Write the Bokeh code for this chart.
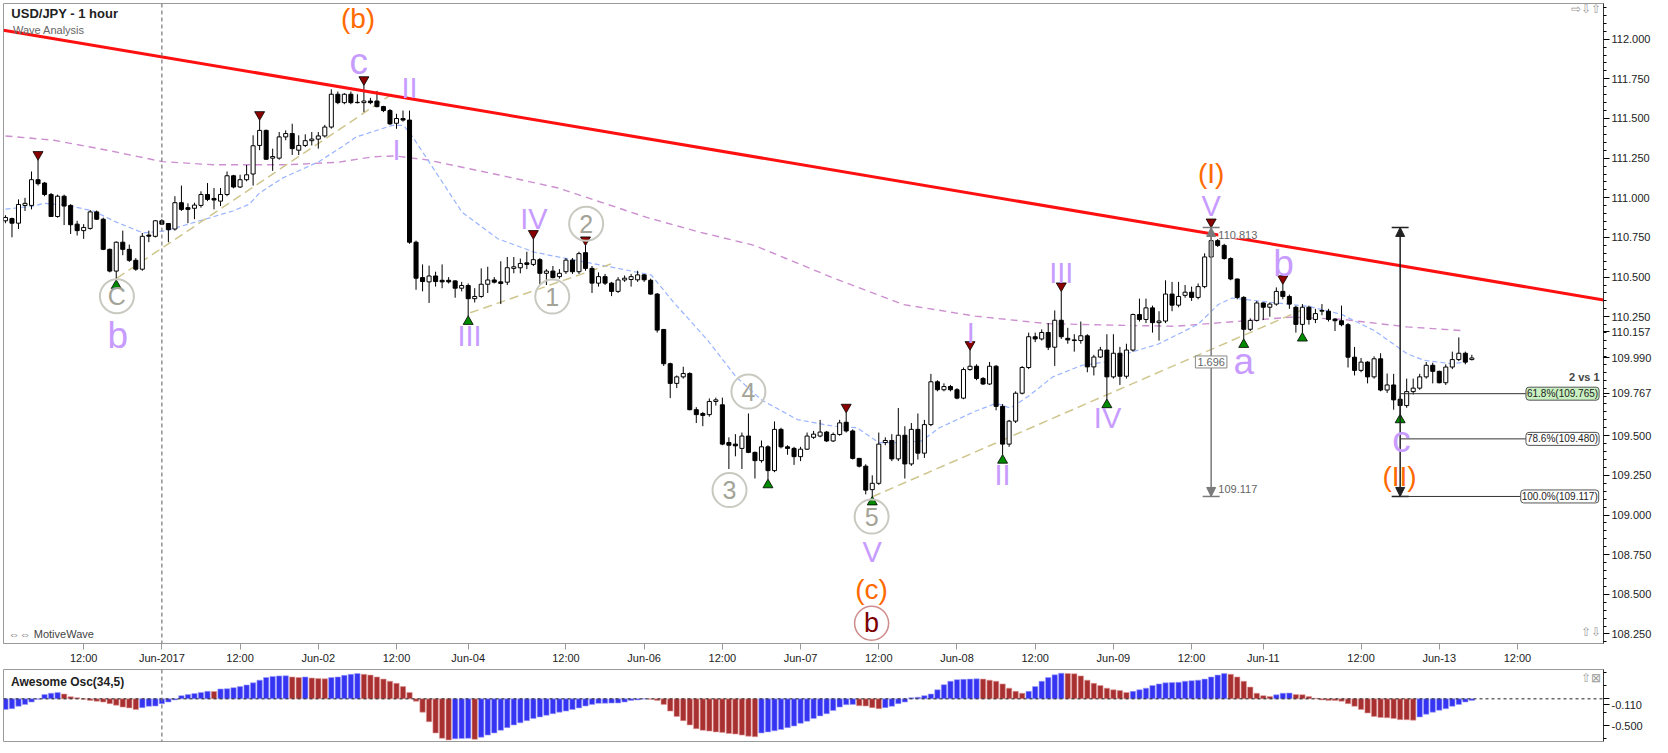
from bokeh.plotting import figure
from bokeh.layouts import column
from bokeh.models import Range1d, FixedTicker, NumeralTickFormatter, Span, Label, Arrow, NormalHead
from bokeh.embed import file_html
from bokeh.resources import INLINE
from bokeh.core.properties import value

FONT = "Liberation Sans"

# ---------------- candle data (hourly USD/JPY) ----------------
opens = [110.855,110.869,110.840,110.952,110.952,111.114,111.093,111.021,110.882,111.010,
 110.952,110.834,110.793,110.807,110.911,110.865,110.675,110.538,110.720,110.675,
 110.606,110.550,110.765,110.757,110.855,110.838,110.803,110.969,110.938,110.934,
 110.952,111.021,110.996,110.979,111.021,111.139,111.068,111.114,111.150,111.330,
 111.425,111.250,111.250,111.384,111.405,111.300,111.330,111.360,111.370,111.390,
 111.446,111.653,111.600,111.653,111.600,111.600,111.610,111.610,111.575,111.550,
 111.470,111.500,111.490,110.720,110.497,110.470,110.507,110.480,110.480,110.476,
 110.430,110.447,110.364,110.378,110.455,110.482,110.470,110.468,110.555,110.559,
 110.590,110.580,110.610,110.524,110.538,110.503,110.534,110.607,110.534,110.654,
 110.555,110.462,110.503,110.462,110.410,110.482,110.485,110.483,110.514,110.480,
 110.393,110.170,109.954,109.830,109.871,109.892,109.664,109.640,109.633,109.716,
 109.695,109.457,109.447,109.420,109.498,109.395,109.343,109.430,109.280,109.540,
 109.430,109.420,109.368,109.415,109.490,109.498,109.523,109.467,109.508,109.585,
 109.530,109.357,109.308,109.160,109.200,109.457,109.470,109.354,109.503,109.322,
 109.540,109.390,109.570,109.840,109.790,109.810,109.790,109.737,109.917,109.938,
 109.861,109.826,109.938,109.685,109.447,109.592,109.768,109.930,110.124,110.110,
 110.151,110.058,110.228,110.114,110.104,110.100,110.130,109.934,109.996,110.040,
 109.871,110.020,109.875,110.040,110.264,110.233,110.306,110.213,110.223,110.393,
 110.323,110.385,110.405,110.372,110.440,110.627,110.730,110.700,110.617,110.488,
 110.372,110.171,110.227,110.337,110.310,110.330,110.410,110.378,110.310,110.202,
 110.310,110.233,110.285,110.285,110.235,110.225,110.200,109.995,109.912,109.964,
 109.871,109.985,109.788,109.820,109.730,109.690,109.778,109.800,109.871,109.944,
 109.906,109.834,109.933,109.980,110.020,109.980]
highs = [110.890,110.875,110.990,111.000,111.166,111.238,111.100,111.030,111.020,111.020,
 110.960,110.855,110.834,110.923,110.920,110.875,110.680,110.725,110.793,110.705,
 110.620,110.778,110.793,110.860,110.865,110.840,111.010,111.077,110.965,110.969,
 111.041,111.093,111.062,111.062,111.166,111.145,111.145,111.207,111.394,111.490,
 111.430,111.310,111.415,111.425,111.467,111.394,111.400,111.415,111.415,111.460,
 111.684,111.670,111.660,111.670,111.653,111.710,111.630,111.674,111.580,111.560,
 111.530,111.550,111.550,110.730,110.580,110.572,110.534,110.580,110.500,110.480,
 110.470,110.460,110.430,110.555,110.565,110.500,110.600,110.627,110.627,110.617,
 110.660,110.740,110.620,110.550,110.570,110.550,110.620,110.620,110.660,110.700,
 110.570,110.530,110.520,110.470,110.500,110.510,110.520,110.540,110.520,110.490,
 110.400,110.170,109.960,109.880,109.935,109.900,109.680,109.650,109.735,109.740,
 109.740,109.490,109.510,109.520,109.640,109.400,109.470,109.440,109.590,109.550,
 109.440,109.430,109.430,109.520,109.530,109.600,109.530,109.520,109.600,109.645,
 109.540,109.360,109.320,109.250,109.520,109.490,109.510,109.675,109.560,109.580,
 109.640,109.600,109.890,109.850,109.830,109.820,109.800,109.930,110.040,109.950,
 109.870,109.965,109.945,109.700,109.600,109.780,109.940,110.150,110.150,110.170,
 110.210,110.290,110.410,110.180,110.140,110.220,110.140,110.010,110.060,110.140,
 110.140,110.060,110.080,110.270,110.364,110.364,110.320,110.285,110.480,110.470,
 110.470,110.450,110.440,110.460,110.650,110.813,110.740,110.710,110.625,110.490,
 110.380,110.240,110.350,110.340,110.340,110.435,110.455,110.390,110.320,110.330,
 110.320,110.300,110.330,110.300,110.240,110.320,110.210,110.060,109.990,109.970,
 110.000,110.020,109.892,109.890,109.750,109.860,109.860,109.890,109.964,109.960,
 109.910,109.950,110.030,110.120,110.030,110.010]
lows = [110.840,110.751,110.803,110.917,110.927,111.077,111.010,110.880,110.875,110.828,
 110.772,110.762,110.741,110.799,110.860,110.670,110.530,110.482,110.638,110.596,
 110.540,110.540,110.720,110.750,110.830,110.720,110.793,110.917,110.840,110.865,
 110.938,110.979,110.927,110.948,111.010,111.060,111.062,111.104,111.077,111.300,
 111.240,111.170,111.240,111.363,111.270,111.270,111.320,111.330,111.310,111.380,
 111.436,111.590,111.590,111.590,111.595,111.540,111.590,111.570,111.540,111.460,
 111.435,111.480,110.710,110.420,110.410,110.337,110.440,110.430,110.460,110.370,
 110.410,110.255,110.340,110.370,110.400,110.460,110.330,110.450,110.524,110.524,
 110.550,110.570,110.450,110.450,110.490,110.490,110.520,110.520,110.520,110.540,
 110.400,110.440,110.450,110.380,110.400,110.470,110.440,110.470,110.470,110.390,
 110.150,109.940,109.737,109.800,109.860,109.660,109.580,109.560,109.620,109.690,
 109.440,109.290,109.370,109.290,109.390,109.230,109.330,109.225,109.270,109.420,
 109.380,109.316,109.340,109.410,109.480,109.490,109.460,109.460,109.500,109.520,
 109.350,109.300,109.130,109.117,109.190,109.440,109.340,109.340,109.230,109.310,
 109.350,109.360,109.560,109.780,109.780,109.780,109.730,109.730,109.910,109.850,
 109.820,109.820,109.660,109.380,109.430,109.580,109.760,109.920,110.090,110.100,
 110.040,109.940,110.110,110.080,110.030,110.080,109.900,109.880,109.990,109.730,
 109.860,109.820,109.860,110.030,110.220,110.210,110.150,110.100,110.210,110.285,
 110.310,110.370,110.350,110.360,110.430,110.620,110.690,110.610,110.480,110.360,
 110.110,110.160,110.220,110.230,110.250,110.320,110.360,110.300,110.150,110.150,
 110.200,110.210,110.260,110.220,110.160,110.190,109.930,109.880,109.900,109.830,
 109.860,109.780,109.770,109.664,109.635,109.676,109.760,109.790,109.860,109.830,
 109.830,109.820,109.920,109.970,109.950,109.975]
closes = [110.876,110.840,110.958,110.965,111.114,111.089,111.021,110.882,111.010,110.948,
 110.830,110.793,110.813,110.911,110.865,110.675,110.538,110.720,110.675,110.606,
 110.550,110.757,110.758,110.855,110.834,110.799,110.969,110.927,110.927,110.954,
 111.021,110.990,110.986,111.021,111.139,111.068,111.114,111.145,111.328,111.425,
 111.243,111.260,111.384,111.405,111.310,111.330,111.360,111.370,111.390,111.446,
 111.653,111.600,111.653,111.600,111.602,111.610,111.600,111.575,111.550,111.466,
 111.500,111.490,110.720,110.493,110.472,110.507,110.472,110.470,110.470,110.430,
 110.447,110.364,110.378,110.455,110.482,110.468,110.460,110.559,110.565,110.586,
 110.580,110.610,110.524,110.538,110.497,110.524,110.607,110.534,110.648,110.555,
 110.462,110.503,110.462,110.410,110.482,110.493,110.503,110.514,110.483,110.393,
 110.166,109.954,109.830,109.871,109.892,109.664,109.633,109.628,109.716,109.726,
 109.447,109.440,109.436,109.498,109.395,109.343,109.430,109.280,109.540,109.430,
 109.420,109.368,109.415,109.498,109.510,109.523,109.467,109.508,109.581,109.530,
 109.357,109.308,109.157,109.200,109.447,109.470,109.354,109.503,109.322,109.540,
 109.390,109.570,109.840,109.790,109.810,109.790,109.737,109.917,109.938,109.861,
 109.826,109.938,109.685,109.447,109.592,109.768,109.930,110.124,110.110,110.151,
 110.058,110.228,110.124,110.104,110.100,110.130,109.934,109.996,110.041,109.871,
 110.020,109.875,110.040,110.264,110.233,110.306,110.213,110.223,110.393,110.323,
 110.378,110.405,110.372,110.440,110.627,110.730,110.700,110.617,110.488,110.372,
 110.171,110.227,110.337,110.310,110.330,110.410,110.378,110.330,110.202,110.310,
 110.233,110.270,110.290,110.233,110.225,110.200,109.995,109.912,109.964,109.871,
 109.985,109.788,109.820,109.726,109.690,109.778,109.800,109.871,109.944,109.906,
 109.834,109.933,109.980,110.020,109.964,109.990]

# Awesome oscillator values
ao = [-0.20,-0.185,-0.14,-0.105,-0.06,-0.01,0.08,0.105,0.12,0.09,
 0.04,0.02,-0.01,-0.03,-0.045,-0.06,-0.09,-0.12,-0.155,-0.17,
 -0.20,-0.165,-0.14,-0.135,-0.09,-0.06,-0.02,0.06,0.08,0.10,
 0.12,0.14,0.138,0.185,0.19,0.21,0.23,0.26,0.30,0.35,
 0.40,0.42,0.43,0.432,0.41,0.40,0.41,0.39,0.38,0.375,
 0.40,0.41,0.44,0.46,0.475,0.46,0.445,0.41,0.37,0.33,
 0.29,0.23,0.12,-0.045,-0.25,-0.43,-0.64,-0.74,-0.77,-0.75,
 -0.745,-0.74,-0.76,-0.72,-0.68,-0.64,-0.59,-0.54,-0.49,-0.45,
 -0.41,-0.37,-0.34,-0.31,-0.28,-0.25,-0.23,-0.20,-0.17,-0.135,
 -0.105,-0.085,-0.082,-0.08,-0.078,-0.06,-0.03,-0.02,-0.005,-0.01,
 -0.03,-0.105,-0.23,-0.33,-0.41,-0.49,-0.56,-0.59,-0.605,-0.62,
 -0.63,-0.65,-0.66,-0.68,-0.70,-0.71,-0.64,-0.62,-0.60,-0.575,
 -0.54,-0.51,-0.46,-0.42,-0.37,-0.32,-0.28,-0.22,-0.155,-0.11,
 -0.105,-0.13,-0.135,-0.165,-0.185,-0.165,-0.14,-0.09,-0.06,0.02,
 0.03,0.06,0.09,0.17,0.265,0.33,0.36,0.365,0.37,0.375,
 0.37,0.35,0.33,0.28,0.20,0.14,0.105,0.14,0.23,0.33,
 0.40,0.45,0.48,0.475,0.47,0.43,0.35,0.29,0.25,0.20,
 0.17,0.155,0.12,0.14,0.17,0.20,0.25,0.28,0.30,0.305,
 0.31,0.33,0.34,0.35,0.37,0.41,0.445,0.475,0.46,0.41,
 0.33,0.22,0.105,0.06,0.045,0.075,0.105,0.108,0.08,0.078,
 0.045,0.01,-0.02,-0.03,-0.033,-0.045,-0.09,-0.14,-0.20,-0.265,
 -0.33,-0.35,-0.355,-0.37,-0.39,-0.392,-0.40,-0.34,-0.29,-0.25,
 -0.215,-0.185,-0.14,-0.105,-0.06,-0.03]

# moving averages read at candle indices
ma_fast_x = [0,4.3,5.9,9.4,13.5,17.1,21.1,24.7,29.8,34.9,37.4,39.0,42.5,48.1,51.6,53.8,59.3,61.1,62.5,65.8,70.1,75.6,81.1,84.8,91.5,99.1,102.4,107.8,112.1,116.0,121.5,126.9,130.7,134.0,137.8,140.6,143.3,148.8,152.0,154.2,156.9,160.7,165.1,168.8,171.9,176.9,183.0,186.1,188.2,192.8,199.9,205.0,210.1,215.1,217.7,221.8,224.3]
ma_fast_y = [110.928,110.948,110.965,110.953,110.917,110.845,110.779,110.793,110.855,110.917,110.959,111.031,111.124,111.228,111.321,111.383,111.456,111.456,111.383,111.176,110.907,110.741,110.658,110.627,110.575,110.513,110.347,110.099,109.871,109.726,109.602,109.561,109.550,109.457,109.457,109.467,109.550,109.654,109.705,109.674,109.747,109.871,109.943,109.965,110.016,110.078,110.203,110.327,110.368,110.347,110.316,110.265,110.161,110.016,109.975,109.954,109.965]
ma_slow_x = [0,7.4,15.6,24.1,31.9,42.9,51.0,56.5,59.7,64.7,75.6,84.8,98.5,106.2,114.9,127.0,137.8,148.8,159.7,168.8,179.5,189.7,197.4,205.0,215.1,223.8]
ma_slow_y = [111.39,111.363,111.30,111.228,111.208,111.208,111.224,111.259,111.264,111.239,111.145,111.062,110.875,110.787,110.70,110.495,110.327,110.254,110.207,110.198,110.19,110.223,110.248,110.234,110.186,110.162]

# trend lines
red_x = [-0.3, 245.2]
red_y = [112.057, 110.356]
tan_x0 = [17.1, 71.3, 133.0]
tan_y0 = [110.493, 110.275, 109.115]
tan_x1 = [59.3, 93.1, 199.9]
tan_y1 = [111.653, 110.586, 110.310]

# swing markers
peak_idx = [5, 39, 55, 81, 89, 129, 148, 162, 185, 196]
trough_idx = [17, 71, 117, 133, 153, 169, 190, 199, 214]

# wave labels
wave_txt = ["b", "c", "II", "I", "IV", "III", "V", "I", "III", "II", "IV", "V", "b", "a", "c"]
wave_x = [17.25, 54.2, 62.0, 60.0, 81.1, 71.2, 133.0, 148.1, 162.0, 153.0, 169.1, 185.0, 196.1, 190.0, 214.2]
wave_y = [110.13, 111.86, 111.694, 111.30, 110.866, 110.13, 108.769, 110.145, 110.524, 109.25, 109.612, 110.948, 110.586, 109.965, 109.477]
orange_txt = ["(b)", "(c)", "(I)", "(II)"]
orange_x = [54.1, 132.9, 185.0, 213.9]
orange_y = [112.129, 108.529, 111.155, 109.24]
circ_txt = ["C", "1", "2", "3", "4", "5"]
circ_x = [17.1, 83.9, 89.1, 111.1, 114.0, 132.9]
circ_y = [110.379, 110.377, 110.837, 109.157, 109.778, 108.99]
big_circ_txt = ["b"]
big_circ_x = [132.9]
big_circ_y = [108.318]

# measurement / fibonacci
meas_hi, meas_lo = 110.813, 109.117
meas_x1, meas_x2 = 185, 214
fib_lvls = [109.765, 109.480, 109.117]
fib_txt = ["61.8%(109.765)", "78.6%(109.480)", "100.0%(109.117)"]
fib_lbl_x = [233.3, 233.3, 232.5]

# axis ticks (price tags 110.157 / 109.990 / 109.767 cover 110.000 and 109.750)
x_ticks = [12, 24, 36, 48, 60, 71, 86, 98, 110, 122, 134, 146, 158, 170, 182, 193, 208, 220, 232]
x_labels = ["12:00", "Jun-2017", "12:00", "Jun-02", "12:00", "Jun-04", "12:00", "Jun-06", "12:00", "Jun-07",
            "12:00", "Jun-08", "12:00", "Jun-09", "12:00", "Jun-11", "12:00", "Jun-13", "12:00"]
y_ticks = [108.25, 108.5, 108.75, 109.0, 109.25, 109.5, 109.767, 109.99, 110.157, 110.25, 110.5, 110.75,
           111.0, 111.25, 111.5, 111.75, 112.0]
y_minor = [108.2, 108.3, 108.35, 108.4, 108.45, 108.55, 108.6, 108.65, 108.7, 108.8, 108.85, 108.9, 108.95,
           109.05, 109.1, 109.15, 109.2, 109.3, 109.35, 109.4, 109.45, 109.55, 109.6, 109.65, 109.7, 109.75,
           109.8, 109.85, 109.9, 109.95, 110.0, 110.05, 110.1, 110.15, 110.2, 110.3, 110.35, 110.4, 110.45,
           110.55, 110.6, 110.65, 110.7, 110.8, 110.85, 110.9, 110.95, 111.05, 111.1, 111.15, 111.2, 111.3,
           111.35, 111.4, 111.45, 111.55, 111.6, 111.65, 111.7, 111.8, 111.85, 111.9, 111.95, 112.05, 112.1,
           112.15, 112.2]
ao_ticks = [-0.5, -0.11, 0.0]
ao_minor = [-0.75, -0.25, 0.25, 0.5]

# ---------------- figures ----------------
XR = Range1d(-0.3, 245.2)
p = figure(frame_width=1600, frame_height=640, x_range=XR, y_range=Range1d(108.19, 112.225),
           y_axis_location="right", output_backend="svg", toolbar_location=None,
           min_border_left=3, min_border_right=55, min_border_top=3, min_border_bottom=0,
           background_fill_color="white", border_fill_color="white")
p.grid.visible = False
p.outline_line_color = "#9a9a9a"

n = len(opens)
idx = list(range(n))
hi = [max(h, o, c) for h, o, c in zip(highs, opens, closes)]
lo = [min(l, o, c) for l, o, c in zip(lows, opens, closes)]
up = [i for i in idx if closes[i] >= opens[i]]
dn = [i for i in idx if closes[i] < opens[i]]

# MAs and trend lines (behind candles)
p.line(ma_slow_x, ma_slow_y, line_color="#cc8fd0", line_width=1.4, line_dash="7 5")
p.line(ma_fast_x, ma_fast_y, line_color="#9ab4ff", line_width=1.2, line_dash="5 3")
p.segment(tan_x0, tan_y0, tan_x1, tan_y1, line_color="#cfc68e", line_width=1.5, line_dash="9 5")

p.segment(idx, hi, idx, lo, line_color="black", line_width=1)
p.vbar(x=up, top=[closes[i] for i in up], bottom=[opens[i] for i in up], width=0.62,
       fill_color="white", line_color="black", line_width=1)
p.vbar(x=dn, top=[opens[i] for i in dn], bottom=[closes[i] for i in dn], width=0.62,
       fill_color="black", line_color="black", line_width=1)

p.line(red_x, red_y, line_color="#ff1010", line_width=3)

# swing markers
p.scatter(peak_idx, [hi[i] + 0.035 for i in peak_idx], marker="inverted_triangle", size=10,
          fill_color="#8b0000", line_color="black", line_width=0.8)
p.scatter(trough_idx, [lo[i] - 0.035 for i in trough_idx], marker="triangle", size=10,
          fill_color="#008a00", line_color="black", line_width=0.8)

# measurement lines
mid = (meas_hi + meas_lo) / 2
for xx, col in [(meas_x1, "#7a7a7a"), (meas_x2, "#222")]:
    p.segment([xx], [meas_hi], [xx], [meas_lo], line_color=col, line_width=1.5)
    p.segment([xx - 1.3, xx - 1.3], [meas_hi, meas_lo], [xx + 1.3, xx + 1.3], [meas_hi, meas_lo],
              line_color=col, line_width=1.5)
    for yy in (meas_hi, meas_lo):
        p.add_layout(Arrow(end=NormalHead(size=9, fill_color=col, line_color=col), x_start=xx, y_start=mid,
                           x_end=xx, y_end=yy, line_color=col, line_width=0))
# fib lines
p.segment([meas_x2] * 3, fib_lvls, fib_lbl_x, fib_lvls, line_color="#333", line_width=1)

p.add_layout(Label(x=meas_x1 + 1.1, y=meas_hi - 0.045, text="110.813", text_font=FONT, text_font_size="11px",
                   text_color="#666", text_baseline="middle", background_fill_color="white"))
p.add_layout(Label(x=meas_x1 + 1.1, y=meas_lo + 0.05, text="109.117", text_font=FONT, text_font_size="11px",
                   text_color="#666", text_baseline="middle"))
p.add_layout(Label(x=meas_x1, y=mid, text="1.696", text_font=FONT, text_font_size="11px", text_color="#666",
                   text_align="center", text_baseline="middle", background_fill_color="white",
                   border_line_color="#888", padding=2))
fib_fill = ["#c8f0c0", "white", "white"]
for t, xx, yy, fc in zip(fib_txt, fib_lbl_x, fib_lvls, fib_fill):
    p.add_layout(Label(x=xx, y=yy, text=t, text_font=FONT, text_font_size="10px", text_color="#222",
                       text_baseline="middle", background_fill_color=fc, border_line_color="#555",
                       padding=1, border_radius=3))
p.add_layout(Label(x=244.6, y=109.869, text="2 vs 1", text_font=FONT, text_font_size="11px",
                   text_font_style="bold", text_align="right", text_baseline="middle"))

# wave labels (lowercase letters are drawn larger than roman numerals)
low_i = [k for k, t in enumerate(wave_txt) if t.islower()]
rom_i = [k for k, t in enumerate(wave_txt) if not t.islower()]
p.text([wave_x[k] for k in rom_i], [wave_y[k] for k in rom_i], text=[wave_txt[k] for k in rom_i],
       text_font=value(FONT), text_font_size="29px", text_color="#c89bff",
       text_align="center", text_baseline="middle")
p.text([wave_x[k] for k in low_i], [wave_y[k] for k in low_i], text=[wave_txt[k] for k in low_i],
       text_font=value(FONT), text_font_size="37px", text_color="#c89bff",
       text_align="center", text_baseline="middle")
p.text(orange_x, orange_y, text=orange_txt, text_font=value(FONT), text_font_size="28px", text_color="#ff6a00",
       text_align="center", text_baseline="middle")
p.scatter(circ_x, circ_y, marker="circle", size=34, fill_alpha=0, line_color="#c9c9c1", line_width=2)
p.text(circ_x, circ_y, text=circ_txt, text_font=value(FONT), text_font_size="25px", text_color="#a3a397",
       text_align="center", text_baseline="middle")
p.scatter(big_circ_x, big_circ_y, marker="circle", size=34, fill_alpha=0, line_color="#cf8c8c", line_width=1.5)
p.text(big_circ_x, big_circ_y, text=big_circ_txt, text_font=value(FONT), text_font_size="27px", text_color="#7d0000",
       text_align="center", text_baseline="middle")

# header texts
p.add_layout(Label(x=0.9, y=112.165, text="USD/JPY - 1 hour", text_font=FONT, text_font_size="13px",
                   text_font_style="bold", text_color="#222", text_baseline="middle"))
p.add_layout(Label(x=1.15, y=112.06, text="Wave Analysis", text_font=FONT, text_font_size="11px",
                   text_color="#666", text_baseline="middle"))
p.add_layout(Label(x=0.5, y=108.25, text="\u21d4\u21d4 MotiveWave", text_font=FONT, text_font_size="11px",
                   text_color="#444", text_baseline="middle"))
p.add_layout(Label(x=244.8, y=112.19, text="\u21e8\u21e9\u21e7", text_font=FONT, text_font_size="12px",
                   text_color="#999", text_align="right", text_baseline="middle"))
p.add_layout(Label(x=244.8, y=108.26, text="\u21e7\u21e9", text_font=FONT, text_font_size="12px",
                   text_color="#999", text_align="right", text_baseline="middle"))

p.add_layout(Span(location=24, dimension="height", line_color="#777", line_dash="4 3", line_width=1.2))

p.yaxis.ticker = FixedTicker(ticks=y_ticks, minor_ticks=y_minor)
p.yaxis.formatter = NumeralTickFormatter(format="0.000")
p.yaxis.major_label_text_font = FONT
p.yaxis.major_label_text_font_size = "11px"
p.yaxis.major_label_text_color = "#222"
p.yaxis.major_tick_in = 0
p.yaxis.major_tick_out = 6
p.yaxis.minor_tick_in = 0
p.yaxis.minor_tick_out = 3
p.yaxis.axis_line_color = "#333"
p.yaxis.major_label_standoff = 2

p.xaxis.ticker = FixedTicker(ticks=x_ticks)
p.xaxis.major_label_overrides = {t: l for t, l in zip(x_ticks, x_labels)}
p.xaxis.major_label_text_font = FONT
p.xaxis.major_label_text_font_size = "11px"
p.xaxis.major_label_text_color = "#222"
p.xaxis.major_tick_in = 0
p.xaxis.major_tick_out = 6
p.xaxis.minor_tick_line_color = None
p.xaxis.axis_line_color = "#999"
p.xaxis.major_tick_line_color = "#999"
p.xaxis.major_label_standoff = 2

# ---------------- oscillator ----------------
q = figure(frame_width=1600, frame_height=72, x_range=XR, y_range=Range1d(-0.80, 0.55),
           y_axis_location="right", x_axis_location=None, output_backend="svg", toolbar_location=None,
           min_border_left=3, min_border_right=55, min_border_top=3, min_border_bottom=2)
q.grid.visible = False
q.outline_line_color = "#9a9a9a"
cols = ["#3434f2" if (i == 0 or ao[i] > ao[i - 1]) else "#a83030" for i in range(len(ao))]
lcols = ["#9d9dfb" if c == "#3434f2" else "#e09a9a" for c in cols]
q.vbar(x=list(range(len(ao))), top=ao, bottom=0, width=0.82, fill_color=cols, line_color=lcols, line_width=0.6)
q.add_layout(Span(location=0, dimension="width", line_color="#222", line_dash="3 3", line_width=1))
q.add_layout(Span(location=24, dimension="height", line_color="#777", line_dash="4 3", line_width=1.2))
q.add_layout(Label(x=0.85, y=0.315, text="Awesome Osc(34,5)", text_font=FONT, text_font_size="12px",
                   text_font_style="bold", text_color="#222", text_baseline="middle"))
q.add_layout(Label(x=244.8, y=0.40, text="\u21e7\u22a0", text_font=FONT, text_font_size="12px",
                   text_color="#999", text_align="right", text_baseline="middle"))
q.yaxis.ticker = FixedTicker(ticks=ao_ticks, minor_ticks=ao_minor)
q.yaxis.formatter = NumeralTickFormatter(format="0.000")
q.yaxis.major_label_overrides = {0.0: ""}
q.yaxis.major_label_text_font = FONT
q.yaxis.major_label_text_font_size = "11px"
q.yaxis.major_label_text_color = "#222"
q.yaxis.major_tick_in = 0
q.yaxis.major_tick_out = 6
q.yaxis.minor_tick_in = 0
q.yaxis.minor_tick_out = 3
q.yaxis.axis_line_color = "#333"
q.yaxis.major_label_standoff = 2

layout = column(p, q, spacing=0)
open("out.html", "w").write(file_html(layout, INLINE))
